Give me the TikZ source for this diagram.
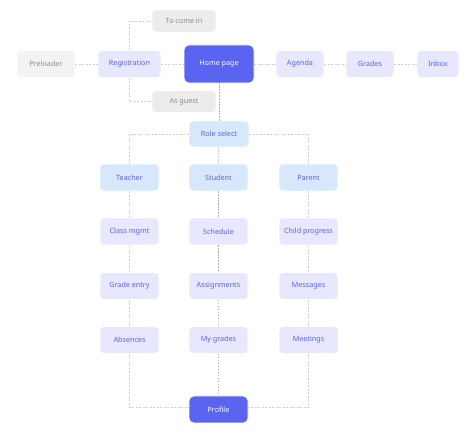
\documentclass[tikz,border=0pt]{standalone}
\usepackage{fontspec}
\setmainfont{Noto Sans}
\begin{document}
\begin{tikzpicture}[x=1pt,y=-1pt,
  base/.style={rounded corners=4pt,minimum height=27pt,inner sep=0pt,font=\fontsize{7.2}{8.5}\selectfont,draw=white,line width=0.6pt},
  greybox/.style={base,fill=gbfill,text=gtext},
  pillbox/.style={base,fill=pfill,text=gtext,minimum height=22pt,minimum width=64pt},
  lavbox/.style={base,fill=lavfill,text=lavtext},
  bluebox/.style={base,fill=bluefill,text=lavtext},
  mainbox/.style={base,fill=mainfill,text=white,rounded corners=5pt},
  conn/.style={draw=lconn,line width=0.7pt,dash pattern=on 2pt off 1.5pt},
  mconn/.style={draw=dconn,line width=0.8pt,dash pattern=on 1.5pt off 1.5pt}
]
\definecolor{gbfill}{HTML}{F3F3F5}
\definecolor{pfill}{HTML}{ECECEE}
\definecolor{gtext}{HTML}{8A8A90}
\definecolor{lavfill}{HTML}{E7E8FD}
\definecolor{lavtext}{HTML}{5A62E6}
\definecolor{bluefill}{HTML}{D7E8FD}
\definecolor{mainfill}{HTML}{5B63F1}
\definecolor{lconn}{HTML}{CFCFD3}
\definecolor{dconn}{HTML}{ADADB3}
\useasboundingbox (0,0) rectangle (466,443);
% top row
\node[greybox,minimum width=58pt] (pre) at (46,64) {Preloader};
\node[lavbox,minimum width=63pt] (reg) at (129.5,64) {Registration};
\node[pillbox] (come) at (184,21) {To come in};
\node[pillbox] (guest) at (184,101.5) {As guest};
\node[mainbox,minimum width=70pt,minimum height=38pt] (home) at (219,64) {Home page};
\node[lavbox,minimum width=48pt] (agenda) at (300,64) {Agenda};
\node[lavbox,minimum width=48pt] (grades) at (370,64) {Grades};
\node[lavbox,minimum width=42pt] (inbox) at (438,64) {Inbox};
\node[bluebox,minimum width=60pt,minimum height=26pt] (role) at (219,134) {Role select};
% columns
\foreach \n/\t/\x in {teacher/Teacher/129.5,student/Student/218.5,parent/Parent/308.5}
  \node[bluebox,minimum width=59pt] (\n) at (\x,177.5) {\t};
\node[lavbox,minimum width=59pt] (cls) at (129.5,231.5) {Class mgmt};
\node[lavbox,minimum width=59pt] (gent) at (129.5,286) {Grade entry};
\node[lavbox,minimum width=59pt] (abs) at (129.5,340) {Absences};
\node[lavbox,minimum width=59pt] (sched) at (218.5,231.5) {Schedule};
\node[lavbox,minimum width=59pt] (assign) at (218.5,286) {Assignments};
\node[lavbox,minimum width=59pt] (mygr) at (218.5,340) {My grades};
\node[lavbox,minimum width=59pt] (child) at (308.5,231.5) {Child progress};
\node[lavbox,minimum width=59pt] (msg) at (308.5,286) {Messages};
\node[lavbox,minimum width=59pt] (meet) at (308.5,340) {Meetings};
\node[mainbox,minimum width=59pt] (profile) at (218.5,409.5) {Profile};
% connectors
\draw[conn] (pre) -- (reg);
\draw[conn] (reg) -- (home);
\draw[conn] (home) -- (agenda);
\draw[conn] (agenda) -- (grades);
\draw[conn] (grades) -- (inbox);
\draw[conn] (reg.north) |- (come.west);
\draw[conn] (reg.south) |- (guest.west);
\draw[mconn] (home) -- (role);
\draw[mconn] (role) -- (student);
\draw[conn] (role.west) -| (teacher.north);
\draw[conn] (role.east) -| (parent.north);
\draw[conn] (teacher) -- (cls);
\draw[conn] (cls) -- (gent);
\draw[conn] (gent) -- (abs);
\draw[mconn] (student) -- (sched);
\draw[mconn] (sched) -- (assign);
\draw[mconn] (assign) -- (mygr);
\draw[mconn] (mygr) -- (profile);
\draw[conn] (parent) -- (child);
\draw[conn] (child) -- (msg);
\draw[conn] (msg) -- (meet);
\coordinate (pl) at (profile.west |- 0,407);
\coordinate (pr) at (profile.east |- 0,407);
\draw[conn] (abs.south) |- (pl);
\draw[conn] (meet.south) |- (pr);
\end{tikzpicture}
\end{document}
